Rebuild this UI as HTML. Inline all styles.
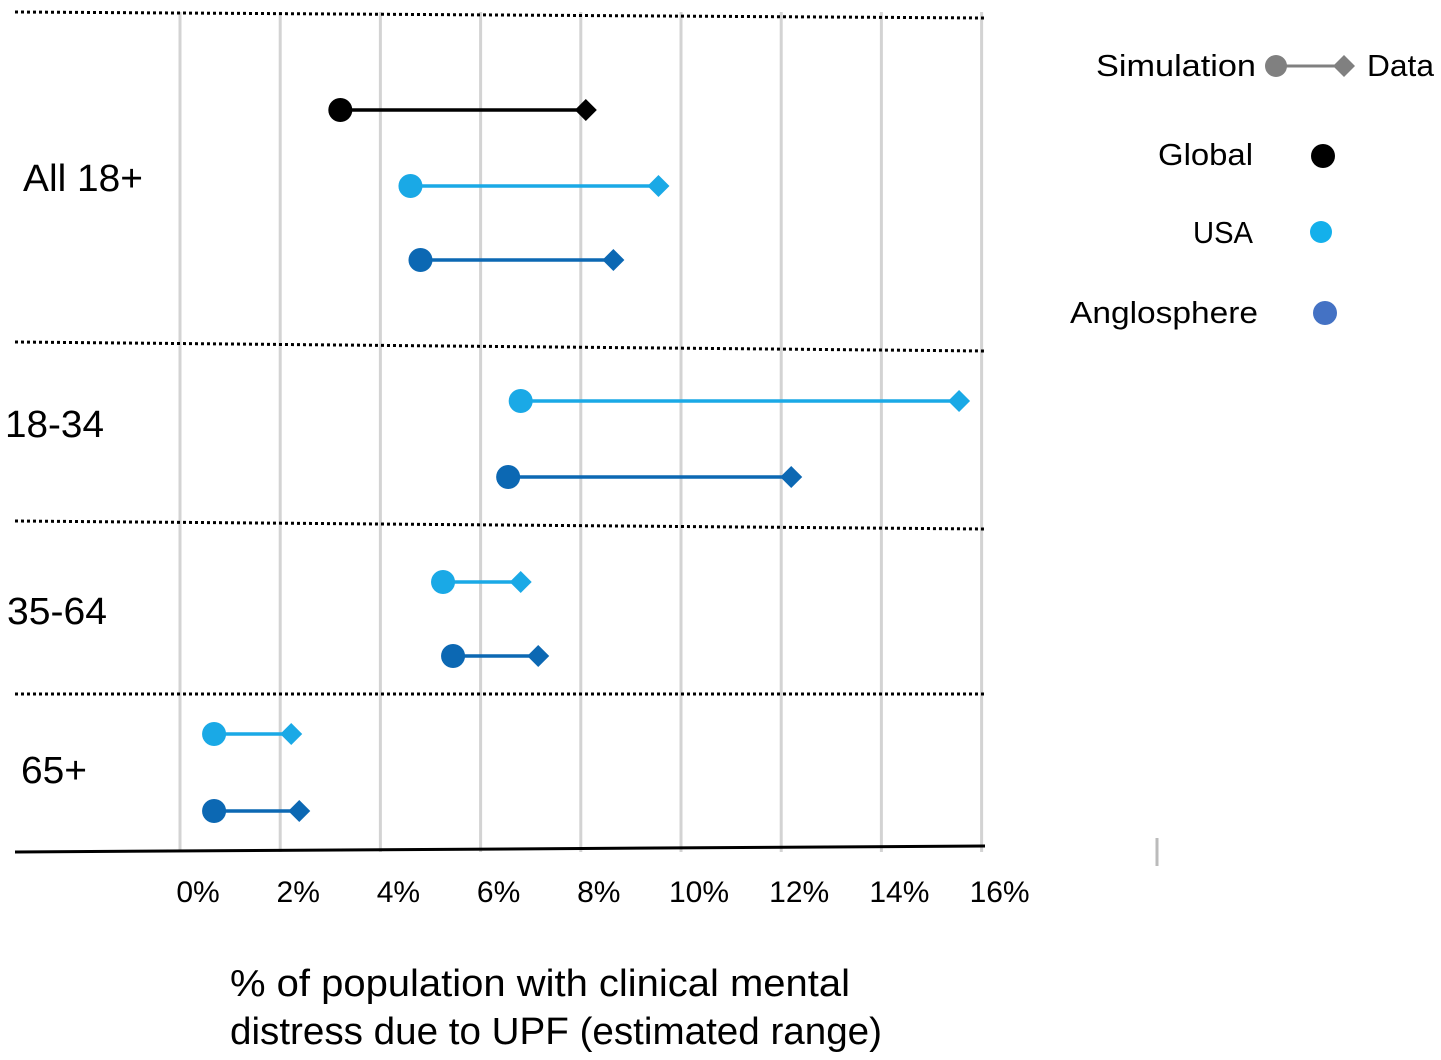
<!DOCTYPE html>
<html><head><meta charset="utf-8"><style>
html,body{margin:0;padding:0;background:#fff;}
svg{display:block;font-family:"Liberation Sans",sans-serif;}
</style></head><body>
<svg id="chart" width="1441" height="1060" viewBox="0 0 1441 1060" xmlns="http://www.w3.org/2000/svg"></svg>
<script>
const tickValues = [0,2,4,6,8,10,12,14,16];
const tickLabels = ["0%","2%","4%","6%","8%","10%","12%","14%","16%"];
const rowNames = ["global-all","usa-all","anglo-all","usa-18-34","anglo-18-34","usa-35-64","anglo-35-64","usa-65","anglo-65"];
const rowSeries = ["global","usa","anglo","usa","anglo","usa","anglo","usa","anglo"];
const simValues = [3.2,4.6,4.8,6.8,6.55,5.25,5.45,0.68,0.68];
const dataValues = [8.1,9.55,8.65,15.55,12.2,6.8,7.15,2.22,2.38];
const groupLabels = ["All 18+","18-34","35-64","65+"];

const X0=180, XS=50.1;
function xs(v){return X0+v*XS;}
const rowY=[110,186,260,401,477,582,656,734,811];
const colors={global:"#000000",usa:"#1aa9e6",anglo:"#0c68b3"};
const svg=document.getElementById('chart');
const NS="http://www.w3.org/2000/svg";
function mk(tag,attrs,parent){const e=document.createElementNS(NS,tag);for(const k in attrs)e.setAttribute(k,attrs[k]);(parent||svg).appendChild(e);return e;}

tickValues.forEach((v,i)=>{
  const l=mk('line',{x1:xs(v),x2:xs(v),y1:12,y2:852,stroke:"#d3d3d3","stroke-width":3});
  
  
  const t=mk('text',{x:xs(v)+18,y:902,"font-size":30,"text-anchor":"middle",fill:"#000"});
  t.textContent=tickLabels[i];
  
  
});
[[12,18],[342,351],[521,529],[694,694]].forEach((s,i)=>{
  const l=mk('line',{x1:15,x2:985,y1:s[0],y2:s[1],stroke:"#000","stroke-width":3,"stroke-dasharray":"3,3"});
  
  
});
const ax=mk('line',{x1:15,x2:985,y1:852,y2:846,stroke:"#000","stroke-width":3});


const tk=mk('line',{x1:1157,x2:1157,y1:838,y2:866,stroke:"#bbb","stroke-width":3});



const gl=[[23,191,120],[5,437,99],[7,624,100],[21,783,66]];
groupLabels.forEach((g,i)=>{
  const t=mk('text',{x:gl[i][0],y:gl[i][1],"font-size":38,fill:"#000",textLength:gl[i][2],lengthAdjust:"spacingAndGlyphs"});
  t.textContent=g;
  
  
});

rowNames.forEach((n,i)=>{
  const c=colors[rowSeries[i]], y=rowY[i], a=xs(simValues[i]), b=xs(dataValues[i]);
  const g=mk('g',{});
  
  
  mk('line',{x1:a,x2:b,y1:y,y2:y,stroke:c,"stroke-width":3.5},g);
  mk('circle',{cx:a,cy:y,r:12,fill:c},g);
  mk('polygon',{points:`${b},${y-11} ${b+11},${y} ${b},${y+11} ${b-11},${y}`,fill:c},g);
});

[["% of population with clinical mental",996,620],["distress due to UPF (estimated range)",1044,652]].forEach(l=>{
  const t=mk('text',{x:230,y:l[1],"font-size":38,fill:"#000",textLength:l[2],lengthAdjust:"spacingAndGlyphs"});
  t.textContent=l[0];
  
  
});

const lg=mk('g',{});


function lt(x,y,s,anchor,len){const a={x:x,y:y,"font-size":31,fill:"#000","text-anchor":anchor||"start"};if(len){a.textLength=len;a.lengthAdjust="spacingAndGlyphs";}const t=mk('text',a,lg);t.textContent=s;return t;}
lt(1256,76,"Simulation","end",160);
mk('line',{x1:1276,x2:1344,y1:66,y2:66,stroke:"#808080","stroke-width":3},lg);
mk('circle',{cx:1276,cy:66,r:11,fill:"#808080"},lg);
mk('polygon',{points:"1344,55 1355,66 1344,77 1333,66",fill:"#808080"},lg);
lt(1367,76,"Data","start",67);
lt(1253,165,"Global","end",95);
mk('circle',{cx:1323,cy:156,r:12,fill:"#000"},lg);
lt(1253,243,"USA","end",60);
mk('circle',{cx:1321,cy:232,r:11,fill:"#14b0eb"},lg);
lt(1258,323,"Anglosphere","end",188);
mk('circle',{cx:1325,cy:313,r:12,fill:"#4472c4"},lg);
</script>
</body></html>
